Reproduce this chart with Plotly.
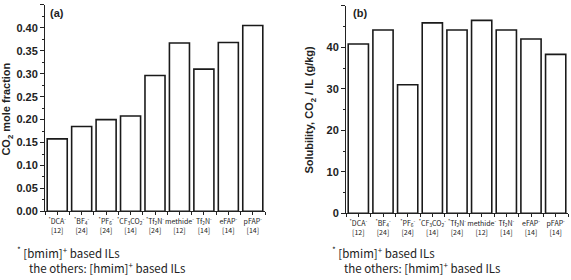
import plotly.graph_objects as go

labels = [
    "<sup>*</sup>DCA<sup>-</sup><br>[12]",
    "<sup>*</sup>BF<sub>4</sub><sup>-</sup><br>[24]",
    "<sup>*</sup>PF<sub>6</sub><sup>-</sup><br>[24]",
    "<sup>*</sup>CF<sub>3</sub>CO<sub>2</sub><sup>-</sup><br>[14]",
    "<sup>*</sup>Tf<sub>2</sub>N<sup>-</sup><br>[24]",
    "methide<sup>-</sup><br>[12]",
    "Tf<sub>2</sub>N<sup>-</sup><br>[14]",
    "eFAP<sup>-</sup><br>[14]",
    "pFAP<sup>-</sup><br>[14]",
]
mole_fraction = [0.158, 0.185, 0.200, 0.208, 0.296, 0.367, 0.310, 0.368, 0.405]
solubility = [40.8, 44.2, 31.0, 45.9, 44.2, 46.5, 44.2, 42.0, 38.3]
left_ticks = [0.00, 0.05, 0.10, 0.15, 0.20, 0.25, 0.30, 0.35, 0.40, 0.45]
right_ticks = [0, 10, 20, 30, 40, 50]

W, H = 571, 280
xpos = list(range(len(labels)))

fig = go.Figure()
bar_style = dict(marker=dict(color="white", line=dict(color="#1a1a1a", width=1.6)), showlegend=False)
fig.add_trace(go.Bar(x=xpos, y=mole_fraction, xaxis="x", yaxis="y", **bar_style))
fig.add_trace(go.Bar(x=xpos, y=solubility, xaxis="x2", yaxis="y2", **bar_style))

cat_font = dict(family="Noto Sans CJK KR", size=7, color="#222")
num_font = dict(family="Liberation Sans", size=11, color="#222", weight="bold")

def xax(domain):
    return dict(domain=domain, range=[-0.5, len(labels) - 0.5],
                tickmode="array", tickvals=xpos, ticktext=labels, tickfont=cat_font,
                showline=True, linecolor="#222", linewidth=1, ticks="outside", ticklen=3,
                tickcolor="#222", showgrid=False, zeroline=False, tickangle=0,
                minor=dict(ticks="outside", ticklen=3, tick0=0.5, dtick=1, tickcolor="#222"))

def yax(domain, rng, ticks, fmt, minor_dt):
    return dict(domain=domain, range=rng, tickmode="array", tickvals=ticks, tickformat=fmt,
                tickfont=num_font, showline=True, linecolor="#222", linewidth=1,
                ticks="outside", ticklen=4, tickcolor="#222", showgrid=False, zeroline=False,
                minor=dict(ticks="outside", ticklen=2, dtick=minor_dt, tickcolor="#222"))

fig.update_layout(
    width=W, height=H, margin=dict(l=0, r=0, t=0, b=0),
    paper_bgcolor="white", plot_bgcolor="white", bargap=0.18,
    xaxis=dict(xax([45 / W, 265 / W]), anchor="y"),
    yaxis=dict(yax([(H - 216) / H, (H - 5) / H], [0, 0.45], left_ticks, ".2f", 0.025), anchor="x"),
    xaxis2=dict(xax([346 / W, 568 / W]), anchor="y2"),
    yaxis2=dict(yax([(H - 218) / H, (H - 6) / H], [0, 50], right_ticks, "d", 5), anchor="x2"),
)

title_font = dict(family="Liberation Sans", size=11, color="#222", weight="bold")
ann = [
    dict(x=7, y=112, text="CO<sub>2</sub> mole fraction", textangle=-90, font=title_font),
    dict(x=310, y=112, text="Solubility, CO<sub>2</sub> / IL (g/kg)", textangle=-90, font=title_font),
    dict(x=57, y=13, text="(a)", font=dict(family="Liberation Sans", size=11, color="#222", weight="bold")),
    dict(x=360, y=13, text="(b)", font=dict(family="Liberation Sans", size=11, color="#222", weight="bold")),
]
foot_font = dict(family="Noto Sans CJK KR", size=11.5, color="#222")
for x0 in (15, 330):
    ann.append(dict(x=x0, y=258, text="<sup>*</sup> [bmim]<sup>+</sup> based ILs", font=foot_font, xanchor="left"))
    ann.append(dict(x=x0 + 12, y=273, text="the others: [hmim]<sup>+</sup> based ILs", font=foot_font, xanchor="left"))

for a in ann:
    a.setdefault("xanchor", "center")
    fig.add_annotation(xref="paper", yref="paper", x=a["x"] / W, y=1 - a["y"] / H,
                       text=a["text"], textangle=a.get("textangle", 0), font=a["font"],
                       xanchor=a["xanchor"], yanchor="middle", showarrow=False)

fig.write_html("out.html")
